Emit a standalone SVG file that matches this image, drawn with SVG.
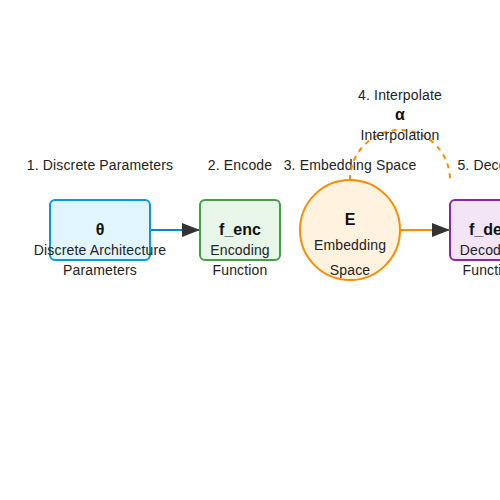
<svg xmlns="http://www.w3.org/2000/svg" width="500" height="500" viewBox="0 0 500 500">
<style>
text{font-family:"Liberation Sans",Arial,sans-serif;font-size:14px;fill:#222;text-anchor:middle;letter-spacing:0.15px}
.sym{font-size:16px;font-weight:bold;fill:#111;letter-spacing:0}
.box{stroke-width:2}
.conn{stroke-width:2;fill:none}
</style>
<defs>
<marker id="ah" viewBox="0 0 18 14" refX="18" refY="7" markerWidth="9" markerHeight="7" orient="auto" markerUnits="strokeWidth">
<path d="M0,0 L18,7 L0,14 z" fill="#333"/>
</marker>
</defs>
<rect width="500" height="500" fill="#fff"/>
<g id="headers">
<text x="100" y="170">1. Discrete Parameters</text>
<text x="240" y="170">2. Encode</text>
<text x="350" y="170">3. Embedding Space</text>
<text x="400" y="100">4. Interpolate</text>
<text x="490" y="170">5. Decode</text>
</g>
<g id="connectors">
<line class="conn" x1="150" y1="230" x2="200" y2="230" stroke="#0288d1" marker-end="url(#ah)"/>
<line class="conn" x1="400" y1="230" x2="450" y2="230" stroke="#fb8c00" marker-end="url(#ah)"/>
<path class="conn" d="M350,180 A50,50 0 0 1 450,180" stroke="#fb8c00" stroke-dasharray="5,5"/>
</g>
<g id="node-theta">
<rect class="box" x="50" y="200" width="100" height="60" rx="5" fill="#e1f5fe" stroke="#039be5"/>
<text class="sym" x="100" y="235">θ</text>
<text x="100" y="255">Discrete Architecture</text>
<text x="100" y="275">Parameters</text>
</g>
<g id="node-fenc">
<rect class="box" x="200" y="200" width="80" height="60" rx="5" fill="#e8f5e9" stroke="#43a047"/>
<text class="sym" x="240" y="235">f_enc</text>
<text x="240" y="255">Encoding</text>
<text x="240" y="275">Function</text>
</g>
<g id="node-E">
<circle class="box" cx="350" cy="230" r="50" fill="#fff3e0" stroke="#fb8c00"/>
<text class="sym" x="350" y="225">E</text>
<text x="350" y="250">Embedding</text>
<text x="350" y="275">Space</text>
</g>
<g id="node-alpha">
<text class="sym" x="400" y="120">α</text>
<text x="400" y="140">Interpolation</text>
</g>
<g id="node-fdec">
<rect class="box" x="450" y="200" width="80" height="60" rx="5" fill="#f3e5f5" stroke="#8e24aa"/>
<text class="sym" x="490" y="235">f_dec</text>
<text x="490" y="255">Decoding</text>
<text x="490" y="275">Function</text>
</g>
</svg>
